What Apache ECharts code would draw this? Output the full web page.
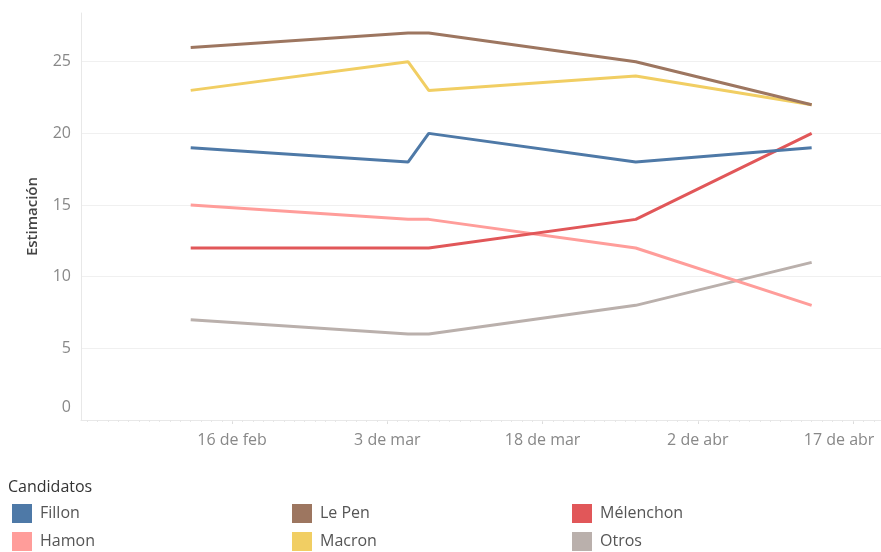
<!DOCTYPE html>
<html>
<head>
<meta charset="utf-8">
<script src="https://cdn.jsdelivr.net/npm/echarts@6/dist/echarts.min.js"></script>
<style>
  html, body { margin: 0; padding: 0; background: #fff; }
  #main { width: 881px; height: 552px; }
</style>
</head>
<body>
<div id="main"></div>
<script>
// fechas de las encuestas
var fechas = ['2017-02-12', '2017-03-05', '2017-03-07', '2017-03-27', '2017-04-13'];
// estimación por candidato
var fillon    = [19, 18, 20, 18, 19];
var lePen     = [26, 27, 27, 25, 22];
var melenchon = [12, 12, 12, 14, 20];
var hamon     = [15, 14, 14, 12, 8];
var macron    = [23, 25, 23, 24, 22];
var otros     = [7, 6, 6, 8, 11];
// etiquetas del eje x
var ticksX = ['2017-02-16', '2017-03-03', '2017-03-18', '2017-04-02', '2017-04-17'];
var meses = ['ene', 'feb', 'mar', 'abr', 'may', 'jun', 'jul', 'ago', 'sep', 'oct', 'nov', 'dic'];

var DAY = 86400000;
function ts(s) {
  var p = s.split('-').map(Number);
  return new Date(p[0], p[1] - 1, p[2]).getTime();
}
var xMin = ts('2017-02-01') + 0.4 * DAY;
var xMax = ts('2017-04-19') + 0.7 * DAY;

// ticks pequeños, uno por día
var dias = [];
for (var t = ts('2017-02-02'); t <= xMax; t += DAY) dias.push(t);

function serie(name, valores, color) {
  return {
    type: 'line',
    name: name,
    data: fechas.map(function (f, i) { return [ts(f), valores[i]]; }),
    showSymbol: false,
    symbol: 'none',
    lineStyle: { color: color, width: 3 },
    itemStyle: { color: color },
    xAxisIndex: 0
  };
}

var font = '"Open Sans", "Noto Sans", sans-serif';

// leyenda: un componente por candidato (3 columnas x 2 filas)
var leyenda = [
  ['Fillon', 7, 499], ['Le Pen', 287, 499], ['Mélenchon', 567, 499],
  ['Hamon', 7, 527], ['Macron', 287, 527], ['Otros', 567, 527]
].map(function (l) {
  return {
    data: [l[0]], left: l[1], top: l[2],
    icon: 'rect', itemWidth: 20, itemHeight: 19, selectedMode: false,
    textStyle: { color: '#555', fontSize: 16, fontFamily: font, padding: [2, 0, 0, 3] }
  };
});

var chart = echarts.init(document.getElementById('main'));
chart.setOption({
  animation: false,
  textStyle: { fontFamily: font },
  grid: { left: 81, right: 0, top: 13, bottom: 132 },
  title: {
    text: 'Candidatos',
    left: 3, top: 474,
    textStyle: { color: '#333', fontSize: 16, fontWeight: 'normal', fontFamily: font }
  },
  legend: leyenda,
  xAxis: [
    {
      type: 'value', position: 'bottom', min: xMin, max: xMax,
      axisLine: { show: true, lineStyle: { color: '#e8e8e8' } },
      axisTick: { show: true, length: 4, lineStyle: { color: '#dcdcdc' }, customValues: ticksX.map(ts) },
      splitLine: { show: false },
      axisLabel: {
        customValues: ticksX.map(ts),
        color: '#888', fontSize: 16, margin: 12,
        formatter: function (v) {
          var d = new Date(v);
          var txt = d.getDate() + ' de ' + meses[d.getMonth()];
          return v === ts(ticksX[ticksX.length - 1]) ? '{ult|' + txt + '}' : txt;
        },
        rich: { ult: { color: '#888', fontSize: 16, padding: [0, 28, 0, 0] } }
      }
    },
    {
      type: 'value', position: 'bottom', min: xMin, max: xMax,
      axisLine: { show: false },
      axisTick: { show: true, length: 2, lineStyle: { color: '#e6e6e6' }, customValues: dias },
      axisLabel: { show: false },
      splitLine: { show: false }
    }
  ],
  yAxis: {
    type: 'value', min: 0, max: 28.4, interval: 5,
    name: 'Estimación', nameLocation: 'middle', nameGap: 41, nameRotate: 90,
    nameTextStyle: { color: '#444', fontSize: 15, fontWeight: 600, fontFamily: font },
    axisLine: { show: true, lineStyle: { color: '#e8e8e8' } },
    axisTick: { show: false },
    splitLine: { showMaxLine: false, lineStyle: { color: '#f0f0f0' } },
    axisLabel: {
      showMaxLabel: false,
      color: '#888', fontSize: 16, margin: 10,
      formatter: function (v) { return v === 0 ? '{cero|0}' : String(v); },
      rich: { cero: { color: '#888', fontSize: 16, padding: [0, 0, 26, 0] } }
    }
  },
  series: [
    serie('Otros', otros, '#BAB0AC'),
    serie('Hamon', hamon, '#FF9D9A'),
    serie('Mélenchon', melenchon, '#E15759'),
    serie('Fillon', fillon, '#4E79A7'),
    serie('Macron', macron, '#F1CE63'),
    serie('Le Pen', lePen, '#9D7660')
  ]
});
</script>
</body>
</html>
